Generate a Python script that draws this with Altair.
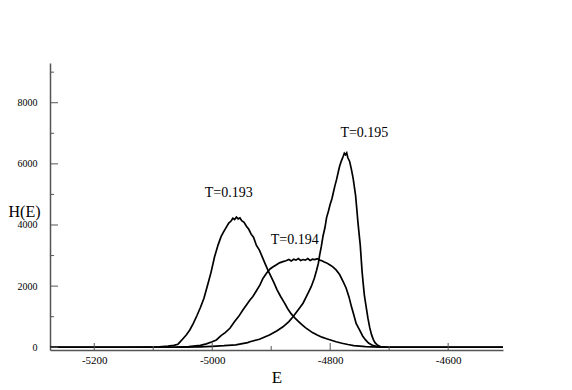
import altair as alt
import pandas as pd

# ---- data ----
e193 = [-5275, -5150, -5110, -5090, -5075, -5065, -5058, -5050, -5044, -5038, -5032, -5026,
        -5020, -5014, -5008, -5002, -4996, -4990, -4985, -4980, -4976, -4972, -4968, -4965,
        -4962, -4959, -4956, -4953, -4950, -4946, -4942, -4938, -4934, -4930, -4925, -4920,
        -4915, -4910, -4905, -4900, -4895, -4890, -4884, -4878, -4872, -4866, -4860, -4854,
        -4848, -4842, -4836, -4830, -4822, -4814, -4806, -4798, -4790, -4780, -4770, -4760,
        -4750, -4740, -4730, -4715, -4700, -4507]
h193 = [0, 0, 5, 15, 35, 60, 100, 270, 400, 565, 780, 1030,
        1300, 1600, 2020, 2450, 2960, 3350, 3620, 3800, 3930, 4060, 4130, 4220,
        4180, 4260, 4200, 4230, 4140, 4090, 3960, 3860, 3700, 3600, 3330, 3180,
        2950, 2720, 2500, 2300, 2100, 1880, 1660, 1470, 1260, 1090, 960, 850,
        740, 640, 560, 480, 400, 330, 280, 230, 180, 130, 90, 55,
        35, 18, 10, 4, 0, 0]

e194 = [-5275, -5100, -5060, -5040, -5020, -5010, -5000, -4993, -4985, -4978, -4970, -4962,
        -4955, -4948, -4942, -4936, -4931, -4925, -4919, -4914, -4908, -4902, -4896, -4891,
        -4886, -4880, -4875, -4870, -4866, -4862, -4858, -4854, -4850, -4846, -4842, -4838,
        -4834, -4830, -4826, -4822, -4818, -4814, -4810, -4806, -4801, -4796, -4790, -4784,
        -4778, -4773, -4768, -4764, -4760, -4756, -4750, -4745, -4740, -4735, -4728, -4720,
        -4710, -4690, -4507]
h194 = [0, 0, 5, 20, 60, 110, 180, 240, 380, 480, 620, 840,
        1010, 1220, 1380, 1546, 1660, 1850, 2040, 2250, 2420, 2560, 2640, 2700,
        2760, 2800, 2830, 2870, 2820, 2880, 2850, 2900, 2840, 2870, 2850, 2900,
        2840, 2880, 2870, 2900, 2850, 2830, 2790, 2760, 2700, 2640, 2530, 2380,
        2150, 1940, 1640, 1330, 1060, 780, 560, 370, 240, 140, 60, 20,
        5, 0, 0]

e195 = [-5275, -5080, -5050, -5020, -5000, -4980, -4960, -4940, -4936, -4920, -4903, -4890,
        -4880, -4870, -4863, -4856, -4850, -4846, -4840, -4836, -4832, -4827, -4823, -4820,
        -4818, -4815, -4812, -4809, -4806, -4803, -4800, -4797, -4795, -4792, -4789, -4786,
        -4784, -4781, -4778, -4776, -4774, -4772, -4770, -4767, -4764, -4761, -4759, -4757,
        -4755, -4753, -4751, -4749, -4746, -4744, -4742, -4739, -4736, -4733, -4730, -4727,
        -4724, -4720, -4715, -4705, -4690, -4507]
h195 = [0, 0, 5, 15, 30, 50, 80, 150, 180, 260, 400, 540,
        670, 840, 1000, 1180, 1330, 1440, 1670, 1830, 1990, 2250, 2520, 2750,
        3000, 3300, 3650, 3900, 4250, 4450, 4680, 4860, 5030, 5280, 5500, 5760,
        5920, 6100, 6240, 6350, 6300, 6360, 6200, 6080, 5820, 5520, 5250, 4980,
        4550, 4100, 3720, 3340, 2500, 2080, 1700, 1320, 950, 650, 420, 260,
        150, 70, 25, 5, 0, 0]

series_names = ["T=0.193", "T=0.194", "T=0.195"]
label_E = [-4972, -4860, -4742]
label_H = [5050, 3500, 7010]

x_major = [-5200, -5000, -4800, -4600]
x_minor = [-5100, -4900, -4700]
y_major = [0, 2000, 4000, 6000, 8000]
y_minor = [1000, 3000, 5000, 7000, 9000]

X_DOMAIN = [-5275, -4507]
Y_DOMAIN = [-90, 9300]

# ---- build tables ----
rows = []
for name, es, hs in zip(series_names, [e193, e194, e195], [h193, h194, h195]):
    for e, h in zip(es, hs):
        rows.append({"series": name, "E": e, "H": h})
curves = pd.DataFrame(rows)
labels = pd.DataFrame({"series": series_names, "E": label_E, "H": label_H})

W, H = 453, 287
FONT = "Liberation Serif"
AXC = "#555555"

xs = alt.Scale(domain=X_DOMAIN, nice=False, zero=False)
ys = alt.Scale(domain=Y_DOMAIN, nice=False, zero=False)

x_axis = alt.Axis(values=x_major, ticks=False, labelPadding=4, labelFontSize=11,
                  labelFont=FONT, labelColor="black", labelExpr="datum.value + ''",
                  domainColor=AXC, domainWidth=1.5, grid=False,
                  titleFont=FONT, titleFontSize=17, titleFontWeight="normal",
                  titleColor="black", titlePadding=4)
y_axis = alt.Axis(values=y_major, ticks=False, labelPadding=13, labelFontSize=10,
                  labelFont=FONT, labelColor="black", labelExpr="datum.value + ''",
                  domainColor=AXC, domainWidth=1.5, grid=False,
                  titleFont=FONT, titleFontSize=16, titleFontWeight="normal",
                  titleColor="black", titleAngle=0, titleAlign="left",
                  titleBaseline="middle", titleX=-42, titleY=148)


def xenc():
    return alt.X("E:Q", scale=xs, title="E", axis=x_axis)


def yenc():
    return alt.Y("H:Q", scale=ys, title="H(E)", axis=y_axis)


lines = alt.Chart(curves).mark_line(color="black", strokeWidth=1.7, clip=True).encode(
    x=xenc(), y=yenc(), detail="series:N")

xmaj = alt.Chart(pd.DataFrame({"E": x_major})).mark_rule(color=AXC, strokeWidth=1).encode(
    x=xenc(), y=alt.value(H), y2=alt.value(H - 7))
xmin = alt.Chart(pd.DataFrame({"E": x_minor})).mark_rule(color=AXC, strokeWidth=1).encode(
    x=xenc(), y=alt.value(H), y2=alt.value(H - 4))
ymaj = alt.Chart(pd.DataFrame({"H": y_major})).mark_rule(color=AXC, strokeWidth=1).encode(
    y=yenc(), x=alt.value(0), x2=alt.value(8))
ymin = alt.Chart(pd.DataFrame({"H": y_minor})).mark_rule(color=AXC, strokeWidth=1).encode(
    y=yenc(), x=alt.value(0), x2=alt.value(4))

text = alt.Chart(labels).mark_text(font=FONT, fontSize=14, color="black",
                                   align="center", baseline="middle").encode(
    x=xenc(), y=yenc(), text="series:N")

chart = alt.layer(lines, xmaj, xmin, ymaj, ymin, text).properties(
    width=W, height=H,
    autosize=alt.AutoSizeParams(type="none"),
    padding={"left": 42, "top": 55, "right": 50, "bottom": 36},
    background="white",
).configure_view(stroke=None)

chart.save("out.html", embed_options={"renderer": "svg", "actions": False})
